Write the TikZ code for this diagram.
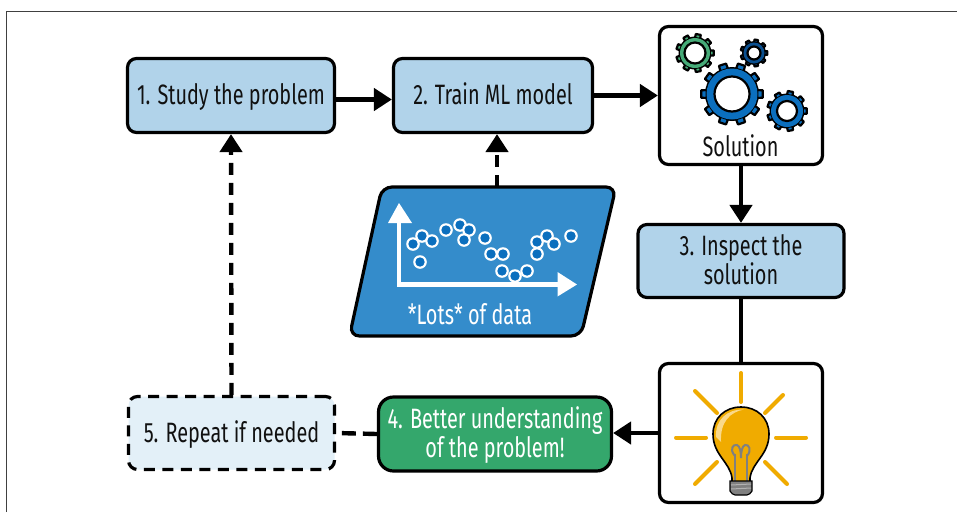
\documentclass[tikz,border=0pt]{standalone}
\usepackage{fontspec}
\setmainfont[FakeStretch=0.71]{Fira Sans}
\usetikzlibrary{arrows.meta,calc}
\definecolor{boxblue}{HTML}{B1D3EA}
\definecolor{paleblue}{HTML}{E3F0F8}
\definecolor{datablue}{HTML}{348CCB}
\definecolor{dotblue}{HTML}{0B6FBE}
\definecolor{gearblue}{HTML}{0B6FBE}
\definecolor{geargreen}{HTML}{46AB78}
\definecolor{gearnavy}{HTML}{0A4F8F}
\definecolor{okgreen}{HTML}{34A76C}
\definecolor{bulb}{HTML}{F0AB00}
\definecolor{bulblight}{HTML}{FAD98A}
\definecolor{ink}{HTML}{111111}
\newcommand{\boxline}[1]{\raisebox{0pt}[23pt][5pt]{#1}}
\tikzset{
  x=1pt,y=-1pt,
  labelfont/.style={font=\fontsize{28}{27}\selectfont},
  boxbase/.style={draw=black,line width=3.2pt,rounded corners=9pt,align=center,text=ink,labelfont,inner sep=0pt},
  stepbox/.style={boxbase,fill=boxblue},
  plainbox/.style={boxbase,fill=white},
  flow/.style={line width=4.4pt,draw=black,-{Triangle[length=18pt,width=22pt]}},
  flowdash/.style={flow,dash pattern=on 12pt off 8pt},
  linkline/.style={line width=4.4pt,draw=black},
  ray/.style={line width=4pt,draw=bulb,line cap=round},
}
% #1 centre, #2 outer radius, #3 root radius, #4 hole radius, #5 colour, #6 teeth
\newcommand{\gearshape}[6]{%
  \pgfmathsetmacro{\gstep}{360/#6}%
  \fill[black] (#1) circle[radius=#3+1.5];
  \foreach \gi in {1,...,#6}{%
    \pgfmathsetmacro{\ga}{\gi*\gstep}%
    \pgfmathsetmacro{\gw}{\gstep*0.25}%
    \pgfmathsetmacro{\gv}{\gstep*0.19}%
    \fill[#5,draw=black,line width=2.2pt,line join=round] ($(#1)+(\ga-\gw:#3)$) -- ($(#1)+(\ga-\gv:#2)$) -- ($(#1)+(\ga+\gv:#2)$) -- ($(#1)+(\ga+\gw:#3)$) -- cycle;
  }
  \fill[#5] (#1) circle[radius=#3];
  \fill[white,draw=black,line width=2.2pt] (#1) circle[radius=#4];
}
\begin{document}
\begin{tikzpicture}
\useasboundingbox (0,0) rectangle (957,512);
\fill[white] (0,0) rectangle (957,512);
\draw[line width=1pt,draw=black!75] (6.5,512) -- (6.5,11.5) -- (957,11.5);

% boxes
\node[stepbox,minimum width=207pt,minimum height=74pt] (study) at (231,95.5) {\boxline{1. Study the problem}};
\node[stepbox,minimum width=199pt,minimum height=74pt] (train) at (493,95.5) {\boxline{2. Train ML model}};
\node[plainbox,minimum width=163pt,minimum height=138pt] (sol) at (741,95.5) {};
\node[stepbox,minimum width=206pt,minimum height=73pt] (inspect) at (741,261) {\boxline{3. Inspect the}\\\boxline{solution}};
\node[plainbox,minimum width=163pt,minimum height=139pt] (idea) at (741,433) {};
\node[boxbase,fill=okgreen,text=white,rounded corners=15pt,minimum width=233pt,minimum height=74pt] (learn) at (495,434) {\boxline{4. Better understanding}\\\boxline{of the problem!}};
\node[boxbase,fill=paleblue,dash pattern=on 11pt off 7.5pt,minimum width=206pt,minimum height=73pt] (repeat) at (231.5,433) {\boxline{5. Repeat if needed}};
\node[minimum width=260pt,minimum height=149pt,inner sep=0pt] (data) at (482,261.5) {};

% data panel
\draw[fill=datablue,draw=black,line width=3.2pt,rounded corners=10pt] (349.5,336) -- (382,187) -- (616,187) -- (581,336) -- cycle;
\node[text=white,labelfont,anchor=base] (datalabel) at (470,324) {*Lots* of data};
\draw[white,line width=4.4pt] (399,221) -- (399,284.5) -- (560,284.5);
\fill[white] (399,203) -- (412,223) -- (388,223) -- cycle;
\fill[white] (577,284.5) -- (557.5,272) -- (557.5,296.5) -- cycle;
\foreach \px/\py in {413/244,422/236,432/241,420/262,446/230,460/225,469/230,464/240,485/238,491/254,503/254,502/271,515/276,527/271,537/242,547/236,554/244,537/254,571/236}{
  \fill[white] (\px,\py) circle[radius=6.8];
  \fill[dotblue] (\px,\py) circle[radius=4.7];
}

% connectors
\draw[flow] ([yshift=-4pt]study.east) -- ([yshift=-4pt]train.west);
\draw[flow] (train.east) -- (sol.west);
\draw[flow] (sol.south) -- (inspect.north);
\draw[linkline] (inspect.south) -- (idea.north);
\draw[flow] (idea.west) -- (learn.east |- idea.west);
\draw[linkline,dash pattern=on 14pt off 7pt] (learn.west) -- (repeat.east);
\draw[flowdash] (repeat.north) -- (study.south);
\draw[flowdash] (data.north -| 497,0) -- ([xshift=4pt]train.south);

% gears
\gearshape{695,53}{19}{15}{10.5}{geargreen}{9}
\gearshape{754,53}{13.5}{10.5}{6.5}{gearnavy}{9}
\gearshape{732,94}{31}{25.5}{17.5}{gearblue}{10}
\gearshape{787,111}{20}{16}{10}{gearblue}{9}
\node[text=ink,labelfont,anchor=base] (sollabel) at (740.5,156) {Solution};

% bulb rays
\draw[ray] (741,373) -- (741,402);
\draw[ray] (695,391) -- (717,413);
\draw[ray] (783,395) -- (765,413);
\draw[ray] (676,437.5) -- (706,437.5);
\draw[ray] (776,437.5) -- (806,437.5);
\draw[ray] (695,484) -- (717,462);
\draw[ray] (765,462) -- (787,484);
% bulb
\draw[fill=bulb,draw=black,line width=1.6pt] (732,491) -- (732,478) .. controls (730,462) and (713,455) .. (713,434) .. controls (713,418) and (725,407) .. (741,407) .. controls (757,407) and (769,418) .. (769,434) .. controls (769,455) and (752,462) .. (750,478) -- (750,491) -- cycle;
\fill[bulblight] (716,437) .. controls (715,420) and (727,409) .. (744,409.5) .. controls (730,412) and (720,422) .. (721,442) -- cycle;
\draw[black!50,line width=2pt] (735,482) -- (735,454) (747,482) -- (747,454);
\draw[black!50,line width=2pt] (735,456) .. controls (729,449) and (733,444) .. (737,445) .. controls (740,446) and (741,452) .. (741,458) .. controls (741,452) and (742,446) .. (745,445) .. controls (749,444) and (752,450) .. (747,456);
\draw[fill=black!50,draw=black,line width=1.2pt] (730,481) -- (752,481) -- (752,491) .. controls (749,496) and (746,495) .. (741,495) .. controls (736,495) and (733,496) .. (730,491) -- cycle;
\draw[black!30,line width=1pt] (731,485) -- (751,484) (731,489) -- (751,488);
\end{tikzpicture}
\end{document}
